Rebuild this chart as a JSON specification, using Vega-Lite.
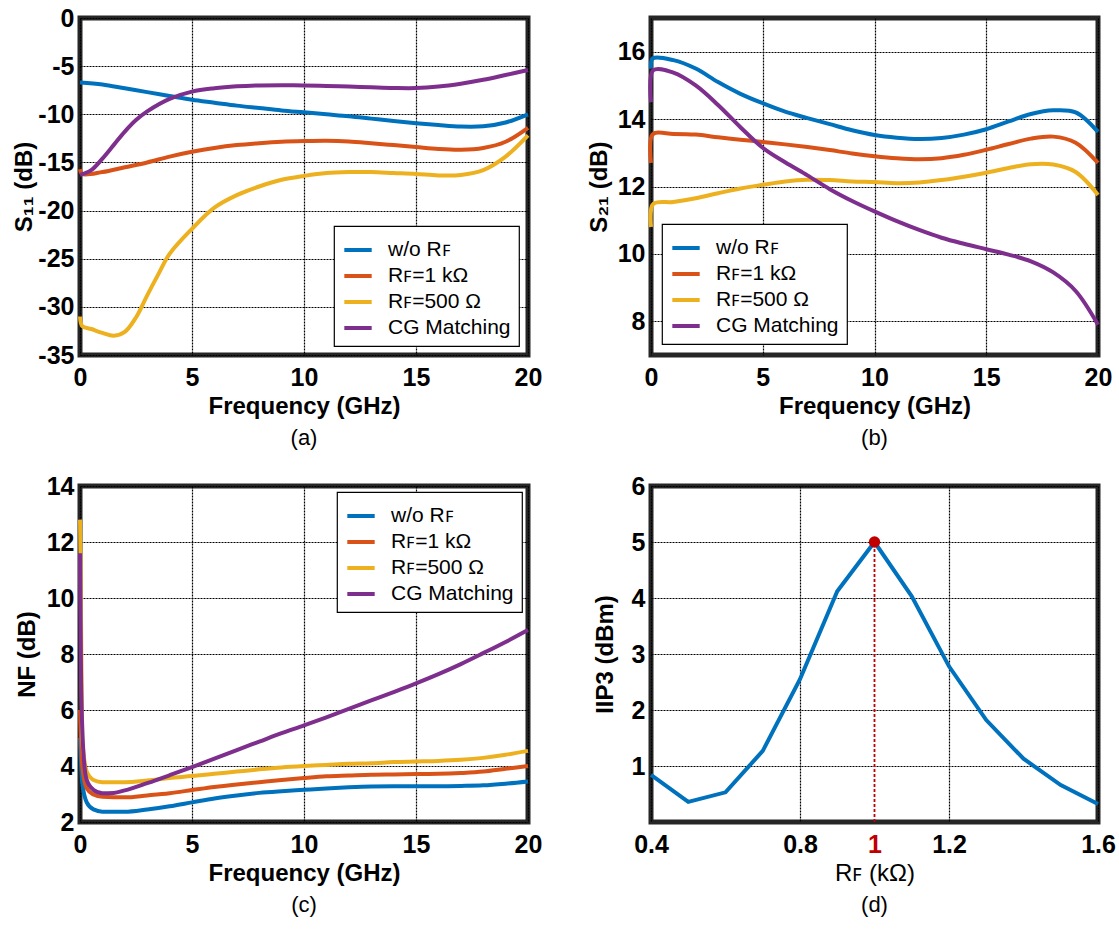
{
  "$schema": "https://vega.github.io/schema/vega-lite/v6.json",
  "background": "white",
  "padding": {"left": 10, "top": 3, "right": 0, "bottom": 4},
  "bounds": "flush",
  "columns": 2,
  "spacing": {"row": 131, "column": 123},
  "resolve": {
    "scale": {"x": "independent", "y": "independent", "color": "independent"},
    "legend": {"color": "independent"}
  },
  "config": {
    "font": "Liberation Sans",
    "view": {"stroke": "#262626", "strokeWidth": 5, "continuousWidth": 448, "continuousHeight": 337},
    "axis": {
      "domain": false,
      "ticks": false,
      "grid": true,
      "gridColor": "#000000",
      "gridDash": [2, 1],
      "gridWidth": 1.2,
      "labelFont": "Liberation Sans",
      "labelFontWeight": "bold",
      "labelFontSize": 25,
      "labelColor": "#000000",
      "labelFlush": false,
      "labelOverlap": false,
      "titleFont": "Liberation Sans",
      "titleFontSize": 24,
      "titleFontWeight": "bold",
      "titleColor": "#000000"
    },
    "axisX": {"labelPadding": 10, "titlePadding": 4},
    "axisY": {"labelPadding": 6, "titlePadding": 4},
    "title": {"orient": "bottom", "anchor": "middle", "font": "Liberation Sans", "fontSize": 22, "fontWeight": "normal", "color": "#000000", "offset": 10},
    "legend": {
      "title": null,
      "symbolType": "stroke",
      "symbolStrokeWidth": 4.5,
      "symbolSize": 750,
      "labelFont": "Liberation Sans",
      "labelFontSize": 21,
      "labelColor": "#000000",
      "labelOffset": 14,
      "rowPadding": 0,
      "padding": 8,
      "strokeColor": "#000000",
      "strokeWidth": 1.2,
      "fillColor": "#ffffff",
      "offset": 9
    },
    "line": {"strokeWidth": 4, "interpolate": "catmull-rom"}
  },
  "datasets": {
    "s11": [
      {"f": 0, "s": "w/o Rꜰ", "v": -6.7}, {"f": 1, "s": "w/o Rꜰ", "v": -6.9}, {"f": 2, "s": "w/o Rꜰ", "v": -7.3}, {"f": 3, "s": "w/o Rꜰ", "v": -7.7}, {"f": 4, "s": "w/o Rꜰ", "v": -8.1}, {"f": 5, "s": "w/o Rꜰ", "v": -8.5}, {"f": 6, "s": "w/o Rꜰ", "v": -8.8}, {"f": 7, "s": "w/o Rꜰ", "v": -9.1}, {"f": 8, "s": "w/o Rꜰ", "v": -9.35}, {"f": 9, "s": "w/o Rꜰ", "v": -9.6}, {"f": 10, "s": "w/o Rꜰ", "v": -9.8}, {"f": 11, "s": "w/o Rꜰ", "v": -10.0}, {"f": 12, "s": "w/o Rꜰ", "v": -10.2}, {"f": 13, "s": "w/o Rꜰ", "v": -10.45}, {"f": 14, "s": "w/o Rꜰ", "v": -10.7}, {"f": 15, "s": "w/o Rꜰ", "v": -10.92}, {"f": 16, "s": "w/o Rꜰ", "v": -11.12}, {"f": 17, "s": "w/o Rꜰ", "v": -11.28}, {"f": 18, "s": "w/o Rꜰ", "v": -11.25}, {"f": 19, "s": "w/o Rꜰ", "v": -10.85}, {"f": 20, "s": "w/o Rꜰ", "v": -10.0},
      {"f": 0, "s": "Rꜰ=1 kΩ", "v": -15.7}, {"f": 0.1, "s": "Rꜰ=1 kΩ", "v": -16.2}, {"f": 1, "s": "Rꜰ=1 kΩ", "v": -16.0}, {"f": 2, "s": "Rꜰ=1 kΩ", "v": -15.5}, {"f": 3, "s": "Rꜰ=1 kΩ", "v": -15.0}, {"f": 4, "s": "Rꜰ=1 kΩ", "v": -14.4}, {"f": 5, "s": "Rꜰ=1 kΩ", "v": -13.9}, {"f": 6, "s": "Rꜰ=1 kΩ", "v": -13.5}, {"f": 7, "s": "Rꜰ=1 kΩ", "v": -13.2}, {"f": 8, "s": "Rꜰ=1 kΩ", "v": -13.0}, {"f": 9, "s": "Rꜰ=1 kΩ", "v": -12.85}, {"f": 10, "s": "Rꜰ=1 kΩ", "v": -12.78}, {"f": 11, "s": "Rꜰ=1 kΩ", "v": -12.75}, {"f": 12, "s": "Rꜰ=1 kΩ", "v": -12.82}, {"f": 13, "s": "Rꜰ=1 kΩ", "v": -13.0}, {"f": 14, "s": "Rꜰ=1 kΩ", "v": -13.2}, {"f": 15, "s": "Rꜰ=1 kΩ", "v": -13.4}, {"f": 16, "s": "Rꜰ=1 kΩ", "v": -13.6}, {"f": 17, "s": "Rꜰ=1 kΩ", "v": -13.68}, {"f": 18, "s": "Rꜰ=1 kΩ", "v": -13.5}, {"f": 19, "s": "Rꜰ=1 kΩ", "v": -12.85}, {"f": 20, "s": "Rꜰ=1 kΩ", "v": -11.4},
      {"f": 0, "s": "Rꜰ=500 Ω", "v": -31.0}, {"f": 0.1, "s": "Rꜰ=500 Ω", "v": -32.0}, {"f": 0.5, "s": "Rꜰ=500 Ω", "v": -32.3}, {"f": 1, "s": "Rꜰ=500 Ω", "v": -32.7}, {"f": 1.5, "s": "Rꜰ=500 Ω", "v": -33.0}, {"f": 2, "s": "Rꜰ=500 Ω", "v": -32.6}, {"f": 2.5, "s": "Rꜰ=500 Ω", "v": -31.1}, {"f": 3, "s": "Rꜰ=500 Ω", "v": -28.8}, {"f": 3.5, "s": "Rꜰ=500 Ω", "v": -26.6}, {"f": 4, "s": "Rꜰ=500 Ω", "v": -24.5}, {"f": 5, "s": "Rꜰ=500 Ω", "v": -21.9}, {"f": 6, "s": "Rꜰ=500 Ω", "v": -19.7}, {"f": 7, "s": "Rꜰ=500 Ω", "v": -18.4}, {"f": 8, "s": "Rꜰ=500 Ω", "v": -17.5}, {"f": 9, "s": "Rꜰ=500 Ω", "v": -16.8}, {"f": 10, "s": "Rꜰ=500 Ω", "v": -16.4}, {"f": 11, "s": "Rꜰ=500 Ω", "v": -16.1}, {"f": 12, "s": "Rꜰ=500 Ω", "v": -16.0}, {"f": 13, "s": "Rꜰ=500 Ω", "v": -16.0}, {"f": 14, "s": "Rꜰ=500 Ω", "v": -16.1}, {"f": 15, "s": "Rꜰ=500 Ω", "v": -16.2}, {"f": 16, "s": "Rꜰ=500 Ω", "v": -16.35}, {"f": 17, "s": "Rꜰ=500 Ω", "v": -16.3}, {"f": 18, "s": "Rꜰ=500 Ω", "v": -15.8}, {"f": 19, "s": "Rꜰ=500 Ω", "v": -14.4}, {"f": 20, "s": "Rꜰ=500 Ω", "v": -12.2},
      {"f": 0, "s": "CG Matching", "v": -16.3}, {"f": 0.5, "s": "CG Matching", "v": -15.8}, {"f": 1, "s": "CG Matching", "v": -14.6}, {"f": 1.5, "s": "CG Matching", "v": -13.2}, {"f": 2, "s": "CG Matching", "v": -11.8}, {"f": 2.5, "s": "CG Matching", "v": -10.6}, {"f": 3, "s": "CG Matching", "v": -9.7}, {"f": 4, "s": "CG Matching", "v": -8.4}, {"f": 5, "s": "CG Matching", "v": -7.65}, {"f": 6, "s": "CG Matching", "v": -7.3}, {"f": 7, "s": "CG Matching", "v": -7.1}, {"f": 8, "s": "CG Matching", "v": -7.0}, {"f": 9, "s": "CG Matching", "v": -6.98}, {"f": 10, "s": "CG Matching", "v": -7.0}, {"f": 11, "s": "CG Matching", "v": -7.05}, {"f": 12, "s": "CG Matching", "v": -7.12}, {"f": 13, "s": "CG Matching", "v": -7.2}, {"f": 14, "s": "CG Matching", "v": -7.27}, {"f": 15, "s": "CG Matching", "v": -7.28}, {"f": 16, "s": "CG Matching", "v": -7.12}, {"f": 17, "s": "CG Matching", "v": -6.82}, {"f": 18, "s": "CG Matching", "v": -6.42}, {"f": 19, "s": "CG Matching", "v": -5.92}, {"f": 20, "s": "CG Matching", "v": -5.4}
    ],
    "s21": [
      {"f": 0, "s": "w/o Rꜰ", "v": 15.5}, {"f": 0.08, "s": "w/o Rꜰ", "v": 15.8}, {"f": 1, "s": "w/o Rꜰ", "v": 15.75}, {"f": 2, "s": "w/o Rꜰ", "v": 15.5}, {"f": 3, "s": "w/o Rꜰ", "v": 15.1}, {"f": 4, "s": "w/o Rꜰ", "v": 14.75}, {"f": 5, "s": "w/o Rꜰ", "v": 14.47}, {"f": 6, "s": "w/o Rꜰ", "v": 14.22}, {"f": 7, "s": "w/o Rꜰ", "v": 14.03}, {"f": 8, "s": "w/o Rꜰ", "v": 13.85}, {"f": 9, "s": "w/o Rꜰ", "v": 13.67}, {"f": 10, "s": "w/o Rꜰ", "v": 13.53}, {"f": 11, "s": "w/o Rꜰ", "v": 13.45}, {"f": 12, "s": "w/o Rꜰ", "v": 13.41}, {"f": 13, "s": "w/o Rꜰ", "v": 13.44}, {"f": 14, "s": "w/o Rꜰ", "v": 13.54}, {"f": 15, "s": "w/o Rꜰ", "v": 13.7}, {"f": 16, "s": "w/o Rꜰ", "v": 13.93}, {"f": 17, "s": "w/o Rꜰ", "v": 14.15}, {"f": 18, "s": "w/o Rꜰ", "v": 14.26}, {"f": 19, "s": "w/o Rꜰ", "v": 14.2}, {"f": 20, "s": "w/o Rꜰ", "v": 13.62},
      {"f": 0, "s": "Rꜰ=1 kΩ", "v": 12.7}, {"f": 0.08, "s": "Rꜰ=1 kΩ", "v": 13.55}, {"f": 1, "s": "Rꜰ=1 kΩ", "v": 13.56}, {"f": 2, "s": "Rꜰ=1 kΩ", "v": 13.54}, {"f": 3, "s": "Rꜰ=1 kΩ", "v": 13.46}, {"f": 4, "s": "Rꜰ=1 kΩ", "v": 13.39}, {"f": 5, "s": "Rꜰ=1 kΩ", "v": 13.32}, {"f": 6, "s": "Rꜰ=1 kΩ", "v": 13.25}, {"f": 7, "s": "Rꜰ=1 kΩ", "v": 13.17}, {"f": 8, "s": "Rꜰ=1 kΩ", "v": 13.08}, {"f": 9, "s": "Rꜰ=1 kΩ", "v": 12.98}, {"f": 10, "s": "Rꜰ=1 kΩ", "v": 12.9}, {"f": 11, "s": "Rꜰ=1 kΩ", "v": 12.84}, {"f": 12, "s": "Rꜰ=1 kΩ", "v": 12.81}, {"f": 13, "s": "Rꜰ=1 kΩ", "v": 12.84}, {"f": 14, "s": "Rꜰ=1 kΩ", "v": 12.94}, {"f": 15, "s": "Rꜰ=1 kΩ", "v": 13.09}, {"f": 16, "s": "Rꜰ=1 kΩ", "v": 13.26}, {"f": 17, "s": "Rꜰ=1 kΩ", "v": 13.42}, {"f": 18, "s": "Rꜰ=1 kΩ", "v": 13.48}, {"f": 19, "s": "Rꜰ=1 kΩ", "v": 13.3}, {"f": 20, "s": "Rꜰ=1 kΩ", "v": 12.7},
      {"f": 0, "s": "Rꜰ=500 Ω", "v": 10.8}, {"f": 0.1, "s": "Rꜰ=500 Ω", "v": 11.48}, {"f": 1, "s": "Rꜰ=500 Ω", "v": 11.54}, {"f": 2, "s": "Rꜰ=500 Ω", "v": 11.65}, {"f": 3, "s": "Rꜰ=500 Ω", "v": 11.8}, {"f": 4, "s": "Rꜰ=500 Ω", "v": 11.94}, {"f": 5, "s": "Rꜰ=500 Ω", "v": 12.05}, {"f": 6, "s": "Rꜰ=500 Ω", "v": 12.15}, {"f": 7, "s": "Rꜰ=500 Ω", "v": 12.2}, {"f": 8, "s": "Rꜰ=500 Ω", "v": 12.19}, {"f": 9, "s": "Rꜰ=500 Ω", "v": 12.15}, {"f": 10, "s": "Rꜰ=500 Ω", "v": 12.13}, {"f": 11, "s": "Rꜰ=500 Ω", "v": 12.1}, {"f": 12, "s": "Rꜰ=500 Ω", "v": 12.12}, {"f": 13, "s": "Rꜰ=500 Ω", "v": 12.19}, {"f": 14, "s": "Rꜰ=500 Ω", "v": 12.29}, {"f": 15, "s": "Rꜰ=500 Ω", "v": 12.41}, {"f": 16, "s": "Rꜰ=500 Ω", "v": 12.55}, {"f": 17, "s": "Rꜰ=500 Ω", "v": 12.66}, {"f": 18, "s": "Rꜰ=500 Ω", "v": 12.65}, {"f": 19, "s": "Rꜰ=500 Ω", "v": 12.43}, {"f": 20, "s": "Rꜰ=500 Ω", "v": 11.75},
      {"f": 0, "s": "CG Matching", "v": 14.5}, {"f": 0.1, "s": "CG Matching", "v": 15.45}, {"f": 1, "s": "CG Matching", "v": 15.38}, {"f": 2, "s": "CG Matching", "v": 15.0}, {"f": 3, "s": "CG Matching", "v": 14.42}, {"f": 4, "s": "CG Matching", "v": 13.76}, {"f": 5, "s": "CG Matching", "v": 13.15}, {"f": 6, "s": "CG Matching", "v": 12.72}, {"f": 7, "s": "CG Matching", "v": 12.33}, {"f": 8, "s": "CG Matching", "v": 11.92}, {"f": 9, "s": "CG Matching", "v": 11.57}, {"f": 10, "s": "CG Matching", "v": 11.26}, {"f": 11, "s": "CG Matching", "v": 10.97}, {"f": 12, "s": "CG Matching", "v": 10.71}, {"f": 13, "s": "CG Matching", "v": 10.48}, {"f": 14, "s": "CG Matching", "v": 10.3}, {"f": 15, "s": "CG Matching", "v": 10.14}, {"f": 16, "s": "CG Matching", "v": 9.98}, {"f": 17, "s": "CG Matching", "v": 9.78}, {"f": 18, "s": "CG Matching", "v": 9.45}, {"f": 19, "s": "CG Matching", "v": 8.9}, {"f": 20, "s": "CG Matching", "v": 7.9}
    ],
    "nf": [
      {"f": 0, "s": "w/o Rꜰ", "v": 5.0}, {"f": 0.1, "s": "w/o Rꜰ", "v": 3.4}, {"f": 0.3, "s": "w/o Rꜰ", "v": 2.7}, {"f": 0.6, "s": "w/o Rꜰ", "v": 2.45}, {"f": 1, "s": "w/o Rꜰ", "v": 2.37}, {"f": 2, "s": "w/o Rꜰ", "v": 2.37}, {"f": 3, "s": "w/o Rꜰ", "v": 2.45}, {"f": 4, "s": "w/o Rꜰ", "v": 2.56}, {"f": 5, "s": "w/o Rꜰ", "v": 2.7}, {"f": 6, "s": "w/o Rꜰ", "v": 2.84}, {"f": 7, "s": "w/o Rꜰ", "v": 2.95}, {"f": 8, "s": "w/o Rꜰ", "v": 3.04}, {"f": 9, "s": "w/o Rꜰ", "v": 3.1}, {"f": 10, "s": "w/o Rꜰ", "v": 3.15}, {"f": 11, "s": "w/o Rꜰ", "v": 3.2}, {"f": 12, "s": "w/o Rꜰ", "v": 3.24}, {"f": 13, "s": "w/o Rꜰ", "v": 3.27}, {"f": 14, "s": "w/o Rꜰ", "v": 3.28}, {"f": 15, "s": "w/o Rꜰ", "v": 3.28}, {"f": 16, "s": "w/o Rꜰ", "v": 3.28}, {"f": 17, "s": "w/o Rꜰ", "v": 3.29}, {"f": 18, "s": "w/o Rꜰ", "v": 3.31}, {"f": 19, "s": "w/o Rꜰ", "v": 3.37}, {"f": 20, "s": "w/o Rꜰ", "v": 3.45},
      {"f": 0, "s": "Rꜰ=1 kΩ", "v": 6.0}, {"f": 0.1, "s": "Rꜰ=1 kΩ", "v": 4.0}, {"f": 0.3, "s": "Rꜰ=1 kΩ", "v": 3.2}, {"f": 0.6, "s": "Rꜰ=1 kΩ", "v": 2.98}, {"f": 1, "s": "Rꜰ=1 kΩ", "v": 2.9}, {"f": 2, "s": "Rꜰ=1 kΩ", "v": 2.88}, {"f": 3, "s": "Rꜰ=1 kΩ", "v": 2.95}, {"f": 4, "s": "Rꜰ=1 kΩ", "v": 3.03}, {"f": 5, "s": "Rꜰ=1 kΩ", "v": 3.14}, {"f": 6, "s": "Rꜰ=1 kΩ", "v": 3.25}, {"f": 7, "s": "Rꜰ=1 kΩ", "v": 3.34}, {"f": 8, "s": "Rꜰ=1 kΩ", "v": 3.42}, {"f": 9, "s": "Rꜰ=1 kΩ", "v": 3.5}, {"f": 10, "s": "Rꜰ=1 kΩ", "v": 3.57}, {"f": 11, "s": "Rꜰ=1 kΩ", "v": 3.63}, {"f": 12, "s": "Rꜰ=1 kΩ", "v": 3.66}, {"f": 13, "s": "Rꜰ=1 kΩ", "v": 3.69}, {"f": 14, "s": "Rꜰ=1 kΩ", "v": 3.7}, {"f": 15, "s": "Rꜰ=1 kΩ", "v": 3.71}, {"f": 16, "s": "Rꜰ=1 kΩ", "v": 3.72}, {"f": 17, "s": "Rꜰ=1 kΩ", "v": 3.75}, {"f": 18, "s": "Rꜰ=1 kΩ", "v": 3.8}, {"f": 19, "s": "Rꜰ=1 kΩ", "v": 3.9}, {"f": 20, "s": "Rꜰ=1 kΩ", "v": 4.0},
      {"f": 0, "s": "Rꜰ=500 Ω", "v": 12.8}, {"f": 0.02, "s": "Rꜰ=500 Ω", "v": 11.6}, {"f": 0.1, "s": "Rꜰ=500 Ω", "v": 5.0}, {"f": 0.3, "s": "Rꜰ=500 Ω", "v": 3.8}, {"f": 0.6, "s": "Rꜰ=500 Ω", "v": 3.5}, {"f": 1, "s": "Rꜰ=500 Ω", "v": 3.42}, {"f": 2, "s": "Rꜰ=500 Ω", "v": 3.42}, {"f": 3, "s": "Rꜰ=500 Ω", "v": 3.48}, {"f": 4, "s": "Rꜰ=500 Ω", "v": 3.57}, {"f": 5, "s": "Rꜰ=500 Ω", "v": 3.64}, {"f": 6, "s": "Rꜰ=500 Ω", "v": 3.72}, {"f": 7, "s": "Rꜰ=500 Ω", "v": 3.8}, {"f": 8, "s": "Rꜰ=500 Ω", "v": 3.88}, {"f": 9, "s": "Rꜰ=500 Ω", "v": 3.95}, {"f": 10, "s": "Rꜰ=500 Ω", "v": 4.0}, {"f": 11, "s": "Rꜰ=500 Ω", "v": 4.04}, {"f": 12, "s": "Rꜰ=500 Ω", "v": 4.08}, {"f": 13, "s": "Rꜰ=500 Ω", "v": 4.1}, {"f": 14, "s": "Rꜰ=500 Ω", "v": 4.14}, {"f": 15, "s": "Rꜰ=500 Ω", "v": 4.16}, {"f": 16, "s": "Rꜰ=500 Ω", "v": 4.18}, {"f": 17, "s": "Rꜰ=500 Ω", "v": 4.22}, {"f": 18, "s": "Rꜰ=500 Ω", "v": 4.29}, {"f": 19, "s": "Rꜰ=500 Ω", "v": 4.4}, {"f": 20, "s": "Rꜰ=500 Ω", "v": 4.54},
      {"f": 0, "s": "CG Matching", "v": 11.6}, {"f": 0.05, "s": "CG Matching", "v": 7.0}, {"f": 0.15, "s": "CG Matching", "v": 4.5}, {"f": 0.3, "s": "CG Matching", "v": 3.5}, {"f": 0.6, "s": "CG Matching", "v": 3.15}, {"f": 1, "s": "CG Matching", "v": 3.03}, {"f": 1.5, "s": "CG Matching", "v": 3.04}, {"f": 2, "s": "CG Matching", "v": 3.13}, {"f": 3, "s": "CG Matching", "v": 3.39}, {"f": 4, "s": "CG Matching", "v": 3.67}, {"f": 5, "s": "CG Matching", "v": 3.96}, {"f": 6, "s": "CG Matching", "v": 4.26}, {"f": 7, "s": "CG Matching", "v": 4.57}, {"f": 8, "s": "CG Matching", "v": 4.87}, {"f": 9, "s": "CG Matching", "v": 5.17}, {"f": 10, "s": "CG Matching", "v": 5.45}, {"f": 11, "s": "CG Matching", "v": 5.74}, {"f": 12, "s": "CG Matching", "v": 6.04}, {"f": 13, "s": "CG Matching", "v": 6.34}, {"f": 14, "s": "CG Matching", "v": 6.64}, {"f": 15, "s": "CG Matching", "v": 6.95}, {"f": 16, "s": "CG Matching", "v": 7.28}, {"f": 17, "s": "CG Matching", "v": 7.64}, {"f": 18, "s": "CG Matching", "v": 8.03}, {"f": 19, "s": "CG Matching", "v": 8.43}, {"f": 20, "s": "CG Matching", "v": 8.86}
    ],
    "iip3": [
      {"rf": 0.4, "iip3": 0.84}, {"rf": 0.5, "iip3": 0.36}, {"rf": 0.6, "iip3": 0.53}, {"rf": 0.7, "iip3": 1.27}, {"rf": 0.8, "iip3": 2.55}, {"rf": 0.9, "iip3": 4.12}, {"rf": 1.0, "iip3": 5.0}, {"rf": 1.1, "iip3": 4.03}, {"rf": 1.2, "iip3": 2.78}, {"rf": 1.3, "iip3": 1.82}, {"rf": 1.4, "iip3": 1.13}, {"rf": 1.5, "iip3": 0.66}, {"rf": 1.6, "iip3": 0.32}
    ]
  },
  "concat": [
    {
      "width": 448,
      "height": 337,
      "title": "(a)",
      "data": {"name": "s11"},
      "mark": {"type": "line"},
      "encoding": {
        "x": {"field": "f", "type": "quantitative", "scale": {"domain": [0, 20], "nice": false}, "axis": {"values": [0, 5, 10, 15, 20], "title": "Frequency (GHz)"}},
        "y": {"field": "v", "type": "quantitative", "scale": {"domain": [-35, 0], "nice": false},
          "axis": {"values": [0, -5, -10, -15, -20, -25, -30, -35], "labelExpr": "datum.value < 0 ? '-' + abs(datum.value) : '' + datum.value", "title": "S₁₁ (dB)", "titlePadding": 1}},
        "color": {"field": "s", "type": "nominal", "sort": null,
          "scale": {"domain": ["w/o Rꜰ", "Rꜰ=1 kΩ", "Rꜰ=500 Ω", "CG Matching"], "range": ["#0072BD", "#D95319", "#EDB120", "#7E2F8E"]},
          "legend": {"orient": "bottom-right"}}
      }
    },
    {
      "width": 447,
      "height": 337,
      "title": "(b)",
      "data": {"name": "s21"},
      "mark": {"type": "line"},
      "encoding": {
        "x": {"field": "f", "type": "quantitative", "scale": {"domain": [0, 20], "nice": false}, "axis": {"values": [0, 5, 10, 15, 20], "title": "Frequency (GHz)"}},
        "y": {"field": "v", "type": "quantitative", "scale": {"domain": [7, 17], "nice": false}, "axis": {"values": [8, 10, 12, 14, 16], "title": "S₂₁ (dB)", "titlePadding": 6}},
        "color": {"field": "s", "type": "nominal", "sort": null,
          "scale": {"domain": ["w/o Rꜰ", "Rꜰ=1 kΩ", "Rꜰ=500 Ω", "CG Matching"], "range": ["#0072BD", "#D95319", "#EDB120", "#7E2F8E"]},
          "legend": {"orient": "bottom-left", "offset": 11}}
      }
    },
    {
      "width": 448,
      "height": 336,
      "title": "(c)",
      "data": {"name": "nf"},
      "mark": {"type": "line", "interpolate": "monotone"},
      "encoding": {
        "x": {"field": "f", "type": "quantitative", "scale": {"domain": [0, 20], "nice": false}, "axis": {"values": [0, 5, 10, 15, 20], "title": "Frequency (GHz)"}},
        "y": {"field": "v", "type": "quantitative", "scale": {"domain": [2, 14], "nice": false}, "axis": {"values": [2, 4, 6, 8, 10, 12, 14], "title": "NF (dB)", "titlePadding": 7}},
        "color": {"field": "s", "type": "nominal", "sort": null,
          "scale": {"domain": ["w/o Rꜰ", "Rꜰ=1 kΩ", "Rꜰ=500 Ω", "CG Matching"], "range": ["#0072BD", "#D95319", "#EDB120", "#7E2F8E"]},
          "legend": {"orient": "top-right", "offset": 6}}
      }
    },
    {
      "width": 447,
      "height": 336,
      "title": "(d)",
      "data": {"name": "iip3"},
      "encoding": {
        "x": {"field": "rf", "type": "quantitative", "scale": {"domain": [0.4, 1.6], "nice": false},
          "axis": {"values": [0.4, 0.8, 1, 1.2, 1.6], "format": "~g", "title": "Rꜰ (kΩ)", "titleFontWeight": "normal",
            "labelColor": {"condition": {"test": "datum.value == 1", "value": "#C00000"}, "value": "#000000"},
            "gridOpacity": {"condition": {"test": "datum.value == 1", "value": 0}, "value": 1}}},
        "y": {"field": "iip3", "type": "quantitative", "scale": {"domain": [0, 6], "nice": false}, "axis": {"values": [1, 2, 3, 4, 5, 6], "title": "IIP3 (dBm)", "titlePadding": 14}}
      },
      "layer": [
        {"mark": {"type": "line", "interpolate": "linear", "color": "#0072BD", "strokeWidth": 4}},
        {
          "transform": [{"filter": "datum.iip3 == 5"}],
          "mark": {"type": "rule", "color": "#C00000", "strokeDash": [3, 2], "strokeWidth": 1.8},
          "encoding": {"y": {"datum": 0}, "y2": {"field": "iip3"}}
        },
        {
          "transform": [{"filter": "datum.iip3 == 5"}],
          "mark": {"type": "circle", "color": "#C00000", "opacity": 1, "size": 130}
        }
      ]
    }
  ]
}
